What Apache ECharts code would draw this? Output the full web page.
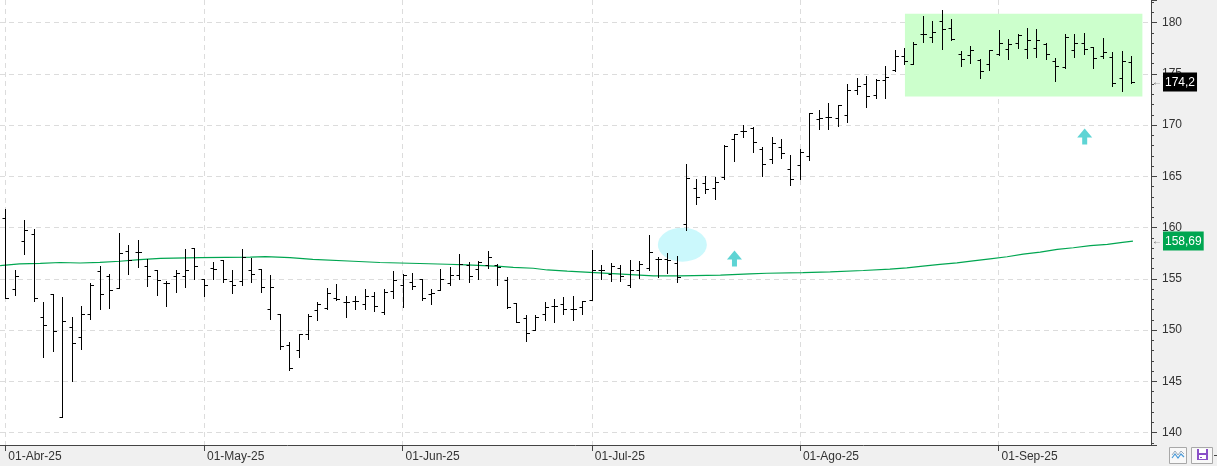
<!DOCTYPE html>
<html>
<head>
<meta charset="utf-8">
<title>Cotización diaria</title>
<script src="https://cdn.jsdelivr.net/npm/echarts@6/dist/echarts.min.js"></script>
<style>
  html, body { margin: 0; padding: 0; background: #f0f0f0; }
  #chart { width: 1217px; height: 466px; }
</style>
</head>
<body>
<div id="chart"></div>
<script>
// month starts (trading-day index) and their labels
var monthIdx = [0, 21, 42, 62, 84, 105];
var monthLabels = ['01-Abr-25', '01-May-25', '01-Jun-25', '01-Jul-25', '01-Ago-25', '01-Sep-25'];

// daily bars, one entry per session
var opens = [
  160.97, 154.0, 158.73, 159.38, 151.26, 153.57, 141.5, 150.35, 149.32, 151.62,
  155.78, 155.29, 154.12, 157.76, 157.66, 156.3, 155.84, 154.58, 155.32, 155.32,
  157.98, 155.03, 156.1, 156.81, 154.8, 154.77, 155.84, 156.0, 152.04, 151.62,
  148.57, 148.02, 149.61, 151.95, 152.21, 153.15, 152.7, 152.86, 152.53, 153.31,
  151.75, 153.86, 154.38, 154.71, 154.97, 153.57, 153.96, 154.64, 155.42, 156.33,
  155.94, 156.33, 156.4, 154.87, 152.66, 151.23, 150.0, 151.53, 152.34, 152.53,
  152.04, 152.27, 152.99, 155.87, 155.49, 156.04, 154.42, 155.87, 156.04, 156.92,
  156.92, 156.53, 160.32, 163.83, 164.32, 163.83, 164.97, 168.6, 169.42, 169.74,
  167.66, 166.66, 167.82, 165.75, 166.08, 167.0, 170.56, 170.76, 170.72, 171.01,
  173.45, 174.04, 172.96, 174.36, 175.4, 176.71, 175.99, 178.86, 178.6, 180.13,
  179.51, 176.9, 176.81, 176.32, 175.99, 176.97, 177.46, 178.04, 177.46, 177.55,
  177.95, 176.25, 175.67, 177.36, 178.04, 177.62, 176.71, 176.64, 174.62, 176.16
];
var highs = [
  161.78, 155.84, 160.71, 159.83, 152.73, 153.57, 153.21, 151.26, 152.34, 154.64,
  156.3, 155.52, 159.44, 158.27, 158.76, 156.98, 155.84, 154.8, 155.84, 157.95,
  158.05, 155.03, 156.65, 156.81, 155.9, 157.95, 157.04, 156.0, 155.35, 151.62,
  148.8, 149.67, 151.56, 152.76, 154.12, 154.48, 153.34, 153.34, 154.06, 153.73,
  154.06, 155.75, 155.52, 155.62, 154.97, 153.99, 156.0, 156.17, 157.46, 156.65,
  156.72, 157.69, 156.49, 155.19, 152.66, 151.46, 151.46, 152.76, 153.08, 153.25,
  153.31, 152.86, 157.79, 156.36, 156.53, 156.36, 156.85, 156.75, 159.3, 157.18,
  157.56, 157.27, 166.2, 164.74, 165.07, 164.97, 168.05, 169.09, 170.0, 169.84,
  167.89, 168.8, 168.6, 167.05, 167.62, 171.2, 171.5, 172.2, 171.92, 173.97,
  174.62, 174.75, 174.53, 175.73, 177.29, 177.55, 178.11, 180.65, 180.13, 181.2,
  180.32, 177.2, 177.68, 176.42, 177.36, 179.25, 178.37, 178.92, 179.51, 179.41,
  178.04, 176.58, 178.86, 178.86, 179.02, 177.62, 178.53, 177.13, 177.2, 176.71
];
var lows = [
  153.15, 153.41, 157.43, 152.82, 147.4, 147.95, 141.5, 145.03, 148.18, 151.1,
  152.07, 152.17, 154.12, 155.52, 156.17, 154.31, 153.44, 152.37, 153.73, 154.25,
  155.0, 153.34, 155.03, 154.74, 153.64, 154.42, 154.7, 153.73, 151.13, 148.12,
  146.07, 147.34, 149.09, 150.97, 152.11, 152.92, 151.3, 152.11, 152.08, 151.85,
  151.53, 153.15, 152.27, 154.0, 152.99, 152.53, 153.96, 154.45, 155.03, 154.71,
  155.03, 156.07, 154.38, 152.21, 150.75, 148.93, 150.0, 150.97, 150.75, 151.53,
  150.97, 151.53, 152.95, 155.0, 154.84, 154.84, 154.19, 155.06, 155.87, 155.16,
  155.55, 154.74, 159.77, 162.27, 163.34, 162.76, 164.74, 166.53, 168.86, 167.4,
  165.07, 166.27, 166.82, 164.15, 164.75, 166.6, 169.6, 169.6, 169.9, 170.29,
  173.0, 171.76, 172.64, 172.64, 175.27, 175.99, 175.99, 178.11, 178.11, 177.46,
  178.34, 175.76, 176.09, 174.59, 175.4, 176.87, 176.42, 177.52, 176.55, 176.64,
  176.48, 174.3, 175.6, 176.64, 176.97, 175.57, 176.58, 173.81, 173.32, 174.14
];
var closes = [
  153.15, 155.29, 159.8, 153.15, 150.55, 149.87, 150.87, 148.7, 151.62, 154.38,
  153.57, 153.9, 157.5, 156.85, 157.66, 155.32, 154.93, 154.58, 155.58, 155.84,
  156.3, 154.45, 155.97, 155.03, 154.45, 157.17, 155.48, 154.19, 154.19, 148.44,
  146.27, 149.61, 151.4, 152.53, 153.64, 153.02, 152.75, 152.86, 153.31, 152.37,
  153.73, 154.93, 155.35, 154.32, 153.15, 153.67, 155.03, 155.35, 156.49, 155.29,
  156.65, 157.14, 156.17, 152.27, 150.75, 149.74, 151.3, 152.27, 152.34, 152.04,
  152.04, 152.82, 155.9, 155.87, 156.3, 155.29, 155.87, 156.46, 157.66, 156.92,
  156.85, 155.16, 164.81, 163.02, 163.73, 164.48, 167.99, 169.09, 169.42, 168.31,
  166.2, 168.28, 167.24, 164.78, 167.35, 171.15, 170.65, 170.76, 171.92, 173.39,
  173.81, 172.8, 174.36, 174.69, 176.71, 176.25, 177.88, 178.86, 179.09, 179.35,
  178.4, 176.48, 177.36, 175.24, 177.29, 178.04, 177.95, 178.83, 178.34, 178.27,
  176.97, 175.73, 178.6, 178.01, 177.46, 176.55, 177.13, 174.14, 176.22, 174.2
];

// moving average
var maIdx = [-0.55, 1.5, 3.7, 5.8, 7.9, 10, 12.1, 14.2, 16.4, 20.6, 25.9, 27.5, 30.1, 32.5, 36.8, 39.6, 43.8,
  46.7, 48.8, 52.3, 53.7, 55.8, 57.3, 59.4, 61.8, 64.7, 68.5, 71.3, 75.6, 78.7, 80.5, 84.3, 87.2, 90.7, 93.5,
  95.3, 97, 98.8, 100.6, 102.3, 104.1, 105.9, 107.6, 109.4, 111.2, 112.9, 114.7, 116.5, 118.1, 119.2];
var maVal = [156.3, 156.46, 156.52, 156.6, 156.55, 156.62, 156.72, 156.88, 157.0, 157.08, 157.12, 157.18,
  157.07, 156.9, 156.72, 156.6, 156.5, 156.43, 156.36, 156.23, 156.13, 156.04, 155.87, 155.75, 155.63, 155.49,
  155.3, 155.29, 155.36, 155.49, 155.55, 155.62, 155.69, 155.82, 155.95, 156.08, 156.24, 156.41, 156.57,
  156.76, 156.96, 157.16, 157.42, 157.61, 157.88, 158.04, 158.24, 158.37, 158.56, 158.69];

// annotations (data space)
var zoneX = [95.1, 120.2], zoneY = [172.8, 180.85];
var gapMark = [71.57, 158.34];
var arrowPts = [[77.08, 156.99], [114.1, 168.89]];

var FONT = 'Liberation Sans, Arial, sans-serif';

var ohlcData = opens.map(function (o, i) {
  return [i, o, highs[i], lows[i], closes[i]];
});
var maData = maIdx.map(function (x, i) { return [x, maVal[i]]; });

function fmt(v) { return String(v).replace('.', ','); }
var lastClose = closes[closes.length - 1];
var lastMa = maVal[maVal.length - 1];

function renderOhlc(params, api) {
  var i = api.value(0);
  var o = api.coord([i, api.value(1)]);
  var h = api.coord([i, api.value(2)]);
  var l = api.coord([i, api.value(3)]);
  var c = api.coord([i, api.value(4)]);
  var x = Math.round(o[0]) + 0.5;
  var st = { stroke: '#000', lineWidth: 1 };
  return {
    type: 'group',
    children: [
      { type: 'line', shape: { x1: x, y1: Math.round(h[1]), x2: x, y2: Math.round(l[1]) + 1 }, style: st },
      { type: 'line', shape: { x1: x - 3, y1: Math.round(o[1]) + 0.5, x2: x, y2: Math.round(o[1]) + 0.5 }, style: st },
      { type: 'line', shape: { x1: x, y1: Math.round(c[1]) + 0.5, x2: x + 3.5, y2: Math.round(c[1]) + 0.5 }, style: st }
    ]
  };
}

function renderEllipse(params, api) {
  var p = api.coord([api.value(0), api.value(1)]);
  return {
    type: 'circle',
    x: p[0], y: p[1],
    scaleX: 24.5 / 17,
    shape: { cx: 0, cy: 0, r: 17 },
    style: { fill: '#cbf8fc' }
  };
}

function tag(bg) {
  return {
    show: true,
    position: 'end',
    distance: 1,
    formatter: function (p) { return '{a|←}{b|' + fmt(p.value) + '}'; },
    rich: {
      a: { fontSize: 10, color: '#666', fontFamily: FONT, padding: [0, 1, 0, 0] },
      b: { fontSize: 12, color: '#fff', fontFamily: FONT, backgroundColor: bg, padding: [4, 2, 3, 2] }
    }
  };
}

var chart = echarts.init(document.getElementById('chart'));
chart.setOption({
  animation: false,
  backgroundColor: '#f0f0f0',
  textStyle: { fontFamily: FONT },
  grid: {
    left: 0, right: 66, top: 0, bottom: 21,
    show: true, backgroundColor: '#fff', borderWidth: 0,
    outerBoundsMode: 'none'
  },
  xAxis: {
    type: 'value',
    min: -0.56,
    max: 121.11,
    axisLine: { show: true, onZero: false, lineStyle: { color: '#444', width: 1 } },
    axisTick: { show: true, customValues: monthIdx, length: 6, lineStyle: { color: '#444' } },
    axisLabel: {
      customValues: monthIdx,
      align: 'left',
      margin: 6,
      padding: [0, 0, 0, 3],
      color: '#333',
      fontSize: 12,
      fontFamily: FONT,
      formatter: function (v) {
        var k = monthIdx.indexOf(Math.round(v));
        return k >= 0 ? monthLabels[k] : '';
      }
    },
    splitLine: { show: true, lineStyle: { color: '#dcdcdc', type: [5, 4] } }
  },
  yAxis: {
    type: 'value',
    position: 'right',
    min: 138.8,
    max: 182.2,
    minInterval: 5,
    maxInterval: 5,
    axisLine: { show: true, onZero: false, lineStyle: { color: '#444', width: 1 } },
    axisTick: { show: true, length: 6, lineStyle: { color: '#444' } },
    minorTick: { show: true, splitNumber: 5, length: 3, lineStyle: { color: '#444' } },
    axisLabel: {
      margin: 11,
      color: '#333',
      fontSize: 12,
      fontFamily: FONT,
      showMinLabel: false,
      showMaxLabel: false,
      formatter: function (v) { return v % 5 === 0 ? String(v) : ''; }
    },
    splitLine: { show: true, showMinLine: false, showMaxLine: false, lineStyle: { color: '#dcdcdc', type: [5, 4] } }
  },
  series: [
    {
      name: 'zona',
      type: 'line',
      data: [],
      z: 1,
      silent: true,
      markArea: {
        silent: true,
        itemStyle: { color: '#ccffcc' },
        data: [[{ xAxis: zoneX[0], yAxis: zoneY[1] }, { xAxis: zoneX[1], yAxis: zoneY[0] }]]
      }
    },
    {
      name: 'hueco',
      type: 'custom',
      z: 1,
      silent: true,
      renderItem: renderEllipse,
      data: [gapMark]
    },
    {
      name: 'media',
      type: 'line',
      z: 2,
      clip: false,
      data: maData,
      showSymbol: false,
      lineStyle: { color: '#00a651', width: 1.2 },
      markLine: {
        silent: true,
        symbol: ['none', 'none'],
        lineStyle: { color: 'transparent', width: 0 },
        label: tag('#00a651'),
        data: [{ yAxis: lastMa }]
      }
    },
    {
      name: 'precio',
      type: 'custom',
      z: 3,
      clip: false,
      renderItem: renderOhlc,
      encode: { x: 0, y: [1, 2, 3, 4] },
      data: ohlcData,
      markLine: {
        silent: true,
        symbol: ['none', 'none'],
        lineStyle: { color: 'transparent', width: 0 },
        label: tag('#000'),
        data: [{ yAxis: lastClose }]
      }
    },
    {
      name: 'flechas',
      type: 'scatter',
      z: 4,
      silent: true,
      symbol: 'path://M7.5,0 L15,9 L10,9 L10,16 L5,16 L5,9 L0,9 Z',
      symbolSize: [15, 16],
      itemStyle: { color: '#36c9c9' },
      data: arrowPts
    }
  ],
  graphic: [
    { type: 'rect', shape: { x: 1169.5, y: 447.5, width: 17, height: 16 }, style: { fill: '#f8f8f8', stroke: '#a8a8a8', lineWidth: 1 } },
    { type: 'polyline', shape: { points: [[1172, 458], [1175, 454], [1178, 458], [1181, 454], [1184, 457]] }, style: { stroke: '#4a9ad8', lineWidth: 1.2, fill: null } },
    { type: 'polyline', shape: { points: [[1172, 455], [1175, 451], [1178, 455], [1181, 451], [1184, 454]] }, style: { stroke: '#9ab', lineWidth: 1, fill: null } },
    { type: 'rect', shape: { x: 1191.5, y: 447.5, width: 21, height: 16 }, style: { fill: '#f8f8f8', stroke: '#a8a8a8', lineWidth: 1 } },
    { type: 'rect', shape: { x: 1197, y: 449, width: 11, height: 11 }, style: { fill: '#8a4fc8' } },
    { type: 'rect', shape: { x: 1199, y: 449, width: 7, height: 4 }, style: { fill: '#fff' } },
    { type: 'rect', shape: { x: 1199, y: 455, width: 7, height: 4 }, style: { fill: '#fff' } },
    { type: 'rect', shape: { x: 1200, y: 457, width: 2, height: 1 }, style: { fill: '#8a4fc8' } },
    { type: 'rect', shape: { x: 1214, y: 455, width: 3, height: 1 }, style: { fill: '#444' } }
  ]
});
</script>
</body>
</html>
